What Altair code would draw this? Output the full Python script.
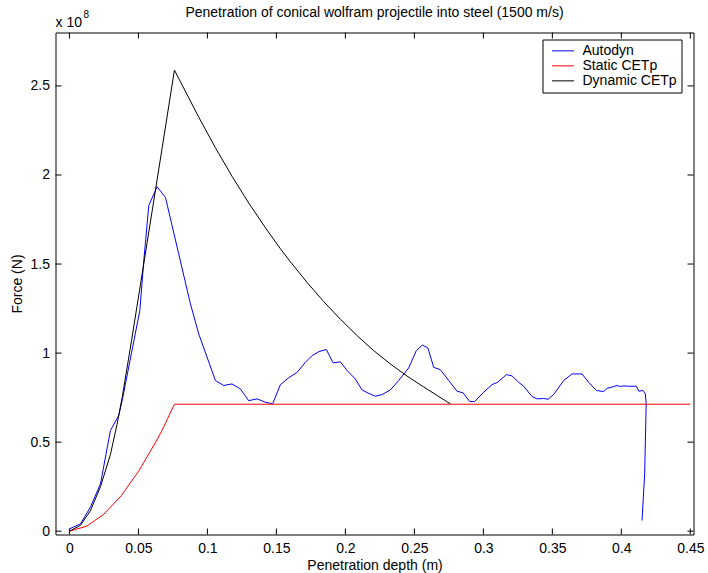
import altair as alt
import pandas as pd

# ---- data (force in units of 1e8 N) ----
auto_x = [0, 0.008, 0.0152, 0.0225, 0.0297, 0.0357, 0.0382, 0.051, 0.0539, 0.0575,
          0.0635, 0.0696, 0.0792, 0.0877, 0.0937, 0.1058, 0.1118, 0.1178, 0.1239, 0.1299,
          0.136, 0.142, 0.1473, 0.1529, 0.1589, 0.165, 0.171, 0.1759, 0.1807, 0.1862,
          0.1911, 0.1964, 0.2012, 0.2072, 0.2121, 0.2169, 0.2217, 0.2266, 0.2326, 0.2386,
          0.2459, 0.2514, 0.2558, 0.2598, 0.264, 0.2688, 0.2749, 0.2809, 0.2853, 0.2901,
          0.2937, 0.3002, 0.3063, 0.3103, 0.3167, 0.3208, 0.3256, 0.3292, 0.3353, 0.3389,
          0.3437, 0.3469, 0.3509, 0.3582, 0.3643, 0.3715, 0.3763, 0.3819, 0.3872, 0.3896,
          0.3945, 0.3969, 0.3993, 0.4017, 0.4046, 0.4109, 0.4126, 0.4157, 0.4174, 0.418,
          0.4169, 0.4150]
auto_y = [0.013, 0.041, 0.135, 0.266, 0.565, 0.649, 0.733, 1.238, 1.519, 1.828,
          1.934, 1.874, 1.557, 1.276, 1.108, 0.846, 0.818, 0.827, 0.799, 0.733,
          0.743, 0.724, 0.715, 0.823, 0.861, 0.892, 0.948, 0.986, 1.008, 1.020,
          0.945, 0.951, 0.902, 0.855, 0.793, 0.774, 0.758, 0.767, 0.793, 0.846,
          0.917, 1.014, 1.045, 1.029, 0.920, 0.907, 0.846, 0.786, 0.777, 0.728,
          0.728, 0.780, 0.823, 0.836, 0.879, 0.872, 0.836, 0.814, 0.756, 0.743,
          0.745, 0.741, 0.767, 0.846, 0.883, 0.883, 0.836, 0.790, 0.784, 0.802,
          0.812, 0.818, 0.812, 0.816, 0.814, 0.814, 0.786, 0.790, 0.771, 0.715,
          0.322, 0.060]

static_x = [0, 0.0125, 0.025, 0.0375, 0.05, 0.0625, 0.0659, 0.07, 0.0761, 0.45]
static_y = [0, 0.028, 0.096, 0.199, 0.335, 0.50, 0.548, 0.613, 0.713, 0.713]

dyn_x = [0, 0.008, 0.0152, 0.0225, 0.0297, 0.0345, 0.0382, 0.045, 0.0563, 0.0647,
         0.0761, 0.0937, 0.1058, 0.1178, 0.1299, 0.142, 0.1529, 0.1601, 0.1722, 0.1843,
         0.1964, 0.2085, 0.2205, 0.2326, 0.2447, 0.2567, 0.2761]
dyn_y = [0, 0.033, 0.115, 0.25, 0.43, 0.6, 0.75, 1.07, 1.62, 2.03,
         2.589, 2.325, 2.153, 1.993, 1.843, 1.704, 1.586, 1.513, 1.397, 1.289,
         1.190, 1.098, 1.014, 0.939, 0.871, 0.810, 0.715]

series_names = ["Autodyn", "Static CETp", "Dynamic CETp"]
series_colors = ["#0000ff", "#ff0000", "#000000"]

x_ticks = [0, 0.05, 0.1, 0.15, 0.2, 0.25, 0.3, 0.35, 0.4, 0.45]
y_ticks = [0, 0.5, 1, 1.5, 2, 2.5]

TITLE = "Penetration of conical wolfram projectile into steel (1500 m/s)"
FONT = "Liberation Sans"

rows = []
for name, xs, ys in zip(series_names, [auto_x, static_x, dyn_x], [auto_y, static_y, dyn_y]):
    for i, (xv, yv) in enumerate(zip(xs, ys)):
        rows.append({"depth": xv, "force": yv, "series": name, "idx": i})
df = pd.DataFrame(rows)

W, H = 638, 502
xscale = alt.Scale(domain=[-0.0101, 0.4523], nice=False, zero=False)
yscale = alt.Scale(domain=[-0.0185, 2.8], nice=False, zero=False)

x_axis = alt.Axis(values=x_ticks, format="~g", title="Penetration depth (m)",
                  domain=False, ticks=False, tickSize=0, grid=False,
                  labelFont=FONT, labelFontSize=14, labelColor="black", labelPadding=7,
                  titleFont=FONT, titleFontSize=14, titleFontWeight="normal",
                  titleColor="black", titleY=31, titleBaseline="middle")
y_axis = alt.Axis(values=y_ticks, format="~g", title="Force (N)",
                  domain=False, ticks=False, tickSize=0, grid=False,
                  labelFont=FONT, labelFontSize=14, labelColor="black", labelPadding=6,
                  titleFont=FONT, titleFontSize=14, titleFontWeight="normal",
                  titleColor="black", titleX=-38, titleY=251, titleAngle=-90,
                  titleBaseline="middle")

lines = alt.Chart(df).mark_line(strokeWidth=1, clip=True).encode(
    x=alt.X("depth:Q", scale=xscale, axis=x_axis),
    y=alt.Y("force:Q", scale=yscale, axis=y_axis),
    color=alt.Color("series:N", sort=series_names,
                    scale=alt.Scale(domain=series_names, range=series_colors),
                    legend=alt.Legend(orient="none", legendX=487, legendY=7, title=None,
                                      symbolType="stroke", symbolSize=484, symbolStrokeWidth=1,
                                      labelFont=FONT, labelFontSize=14, labelColor="black",
                                      strokeColor="black", fillColor="white", padding=4,
                                      rowPadding=0, clipHeight=14.7, labelOffset=8,
                                      symbolOffset=5)),
    order="idx:Q",
)

xt = pd.DataFrame({"depth": x_ticks})
yt = pd.DataFrame({"force": y_ticks})
tick_style = dict(color="black", strokeWidth=1)
xt_bottom = alt.Chart(xt).mark_rule(**tick_style).encode(
    x=alt.X("depth:Q", scale=xscale, axis=x_axis), y=alt.value(H), y2=alt.value(H - 6))
xt_top = alt.Chart(xt).mark_rule(**tick_style).encode(
    x=alt.X("depth:Q", scale=xscale, axis=x_axis), y=alt.value(0), y2=alt.value(6))
yt_left = alt.Chart(yt).mark_rule(**tick_style).encode(
    y=alt.Y("force:Q", scale=yscale, axis=y_axis), x=alt.value(0), x2=alt.value(6))
yt_right = alt.Chart(yt).mark_rule(**tick_style).encode(
    y=alt.Y("force:Q", scale=yscale, axis=y_axis), x=alt.value(W), x2=alt.value(W - 6))

exp_base = alt.Chart(pd.DataFrame({"s": ["x 10"]})).mark_text(
    font=FONT, fontSize=14, color="black", align="left", baseline="middle").encode(
    text="s:N", x=alt.value(0), y=alt.value(-10))
exp_pow = alt.Chart(pd.DataFrame({"s": ["8"]})).mark_text(
    font=FONT, fontSize=10, color="black", align="left", baseline="middle").encode(
    text="s:N", x=alt.value(28), y=alt.value(-18))
title_txt = alt.Chart(pd.DataFrame({"s": [TITLE]})).mark_text(
    font=FONT, fontSize=14, color="black", align="center", baseline="middle").encode(
    text="s:N", x=alt.value(W / 2), y=alt.value(-20))

chart = alt.layer(lines, xt_bottom, xt_top, yt_left, yt_right,
                  exp_base, exp_pow, title_txt).properties(
    width=W, height=H,
    autosize=alt.AutoSizeParams(type="none"),
    padding={"left": 55.5, "top": 32.5, "right": 14.5, "bottom": 38.5},
).configure(background="white").configure_view(stroke="black", strokeWidth=1)

chart.save("out.html", embed_options={"renderer": "svg", "actions": False})
